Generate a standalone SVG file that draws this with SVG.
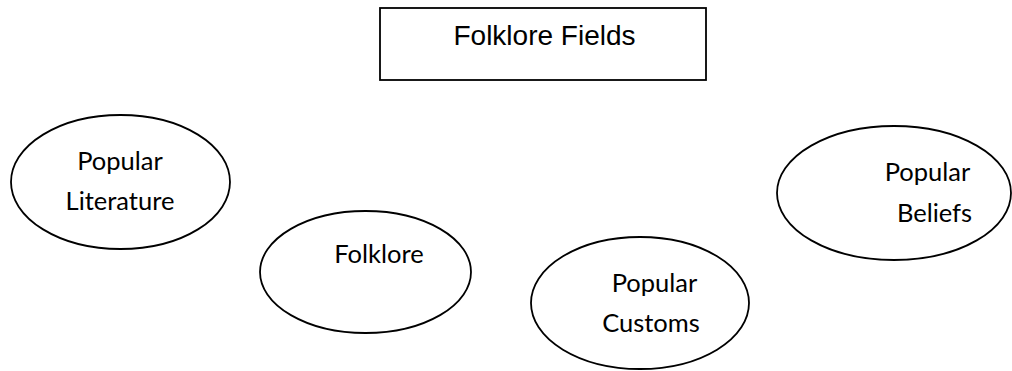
<svg xmlns="http://www.w3.org/2000/svg" width="1012" height="371" viewBox="0 0 1012 371">
<style>
.shape{fill:#fff;stroke:#000;stroke-width:1.8}
.t1{font-family:"Liberation Sans",Arial,sans-serif;font-size:28px;fill:#000;text-anchor:middle}
.t2{font-family:Lato,"Open Sans",sans-serif;font-size:25.5px;fill:#000;text-anchor:middle}
</style>
<rect width="1012" height="371" fill="#fff"/>
<g id="connectors"></g>
<g id="title">
<rect class="shape" x="380" y="8" width="326" height="72"/>
<text class="t1" x="544.5" y="45">Folklore Fields</text>
</g>
<g id="popular-literature">
<ellipse class="shape" cx="120.5" cy="182" rx="109.5" ry="67"/>
<text class="t2" x="120" y="170">Popular</text>
<text class="t2" x="120" y="210">Literature</text>
</g>
<g id="folklore">
<ellipse class="shape" cx="365.5" cy="272" rx="105.5" ry="61"/>
<text class="t2" x="379" y="263">Folklore</text>
</g>
<g id="popular-customs">
<ellipse class="shape" cx="640" cy="303" rx="109" ry="66"/>
<text class="t2" x="654.5" y="292">Popular</text>
<text class="t2" x="651" y="332">Customs</text>
</g>
<g id="popular-beliefs">
<ellipse class="shape" cx="894" cy="193" rx="117" ry="67"/>
<text class="t2" x="927.5" y="181">Popular</text>
<text class="t2" x="934.5" y="222">Beliefs</text>
</g>
</svg>
